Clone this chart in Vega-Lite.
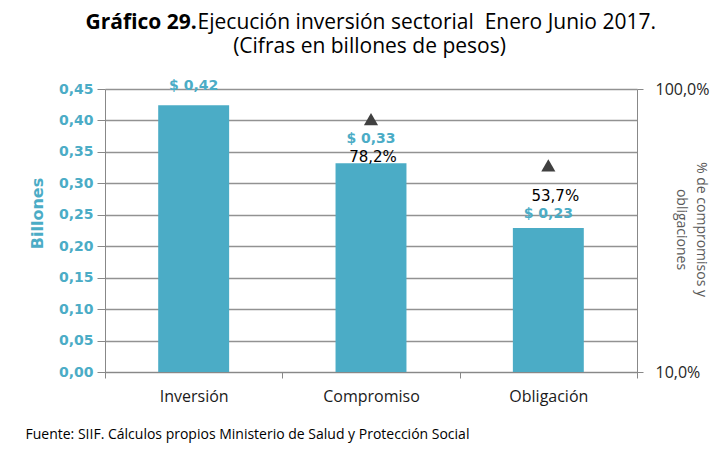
{
  "$schema": "https://vega.github.io/schema/vega-lite/v6.json",
  "width": 532,
  "height": 283,
  "autosize": "none",
  "padding": {"left": 105, "top": 89, "right": 79, "bottom": 84},
  "background": "white",
  "data": {
    "values": [
      {"cat": "Inversión", "val": 0.424, "label": "$ 0,42"},
      {"cat": "Compromiso", "val": 0.332, "label": "$ 0,33", "pct": 78.2, "pctLabel": "78,2%"},
      {"cat": "Obligación", "val": 0.229, "label": "$ 0,23", "pct": 53.7, "pctLabel": "53,7%"}
    ]
  },
  "encoding": {
    "x": {
      "field": "cat",
      "type": "nominal",
      "sort": null,
      "scale": {"domain": ["Inversión", "Compromiso", "Obligación"], "paddingInner": 0, "paddingOuter": 0},
      "axis": {
        "title": "Fuente: SIIF. Cálculos propios Ministerio de Salud y Protección Social",
        "titleFont": "Open Sans",
        "titleFontSize": 14,
        "titleFontWeight": "normal",
        "titleColor": "#000000",
        "titleAlign": "left",
        "titleAnchor": "start",
        "titleX": -80,
        "titleY": 62,
        "titleBaseline": "middle",
        "labelAngle": 0,
        "labelFont": "Open Sans",
        "labelFontSize": 16,
        "labelColor": "#1a1a1a",
        "labelPadding": 10,
        "tickBand": "extent",
        "tickSize": 6,
        "tickColor": "#888888",
        "domainColor": "#888888",
        "grid": false
      }
    }
  },
  "layer": [
    {
      "layer": [
        {
          "mark": {"type": "bar", "color": "#4BACC6", "width": {"band": 0.4}},
          "encoding": {
            "y": {
              "field": "val",
              "type": "quantitative",
              "scale": {"domain": [0, 0.45], "nice": false},
              "axis": {
                "orient": "left",
                "values": [0, 0.05, 0.1, 0.15, 0.2, 0.25, 0.3, 0.35, 0.4, 0.45],
                "labelExpr": "replace(format(datum.value, '.2f'), '.', ',')",
                "labelFont": "DejaVu Sans",
                "labelFontWeight": "bold",
                "labelFontSize": 14,
                "labelColor": "#4BACC6",
                "labelPadding": 4,
                "tickSize": 8,
                "tickColor": "#888888",
                "domainColor": "#888888",
                "grid": true,
                "gridColor": "#929292",
                "gridWidth": 1.3,
                "title": "Billones",
                "titleFont": "DejaVu Sans",
                "titleFontSize": 16,
                "titleFontWeight": "bold",
                "titleColor": "#4BACC6",
                "titleAngle": -90,
                "titleBaseline": "middle",
                "titleAlign": "center",
                "titleX": -68,
                "titleY": 124
              }
            }
          }
        },
        {
          "transform": [{"filter": "isValid(datum.pct)"}],
          "encoding": {
            "y": {
              "field": "pct",
              "type": "quantitative",
              "scale": {"type": "log", "domain": [10, 100], "nice": false},
              "axis": {
                "orient": "right",
                "values": [10, 100],
                "labelExpr": "replace(format(datum.value, '.1f'), '.', ',') + '%'",
                "labelFont": "Open Sans",
                "labelFontSize": 16,
                "labelColor": "#262626",
                "labelPadding": 12,
                "tickSize": 6,
                "tickColor": "#888888",
                "domainColor": "#888888",
                "grid": false,
                "title": ["% de compromisos y", "obligaciones"],
                "titleFont": "Open Sans",
                "titleFontSize": 14,
                "titleFontWeight": "normal",
                "titleColor": "#595959",
                "titleAngle": 90,
                "titleLineHeight": 20,
                "titleAlign": "center",
                "titleBaseline": "middle",
                "titleX": 63,
                "titleY": 140
              }
            }
          },
          "layer": [
            {
              "mark": {"type": "point", "shape": "triangle-up", "filled": true, "size": 200, "color": "#404040", "opacity": 1}
            },
            {
              "transform": [{"filter": "datum.cat === 'Compromiso'"}],
              "mark": {"type": "text", "font": "DejaVu Sans", "fontSize": 15, "color": "#000000", "baseline": "middle", "dy": 38, "dx": 2},
              "encoding": {"text": {"field": "pctLabel"}}
            },
            {
              "transform": [{"filter": "datum.cat === 'Obligación'"}],
              "mark": {"type": "text", "font": "DejaVu Sans", "fontSize": 15, "color": "#000000", "baseline": "middle", "dy": 31, "dx": 7},
              "encoding": {"text": {"field": "pctLabel"}}
            }
          ]
        }
      ],
      "resolve": {"scale": {"y": "independent"}}
    },
    {
      "encoding": {
        "x": {
          "field": "cat",
          "type": "nominal",
          "sort": null,
          "scale": {"domain": ["Inversión", "Compromiso", "Obligación"], "paddingInner": 0, "paddingOuter": 0},
          "axis": {
            "orient": "top",
            "labels": false,
            "ticks": false,
            "domain": false,
            "grid": false,
            "title": ["\u200b\u00a0\u00a0\u00a0\u00a0\u00a0\u00a0\u00a0\u00a0\u00a0\u00a0\u00a0\u00a0\u00a0\u00a0\u00a0\u00a0\u00a0\u00a0\u00a0\u00a0\u00a0Ejecución inversión sectorial\u00a0\u00a0Enero Junio 2017.", "(Cifras en billones de pesos)"],
            "titleFont": "Open Sans",
            "titleFontSize": 21,
            "titleFontWeight": "normal",
            "titleColor": "#000000",
            "titleLineHeight": 24,
            "titleAlign": "center",
            "titleAnchor": "middle",
            "titleBaseline": "alphabetic",
            "titleX": 264,
            "titleY": -61
          }
        },
        "y": {
          "field": "val",
          "type": "quantitative",
          "scale": {"domain": [0, 0.45], "nice": false},
          "axis": {
            "orient": "left",
            "labels": false,
            "ticks": false,
            "domain": false,
            "grid": false,
            "title": "Gráfico 29.",
            "titleFont": "Open Sans",
            "titleFontSize": 21,
            "titleFontWeight": "bold",
            "titleColor": "#000000",
            "titleAngle": 0,
            "titleAlign": "left",
            "titleBaseline": "alphabetic",
            "titleX": -20,
            "titleY": -61
          }
        },
        "text": {"field": "label"}
      },
      "layer": [
        {
          "transform": [{"filter": "datum.cat === 'Inversión'"}],
          "mark": {"type": "text", "font": "DejaVu Sans", "fontWeight": "bold", "fontSize": 14, "color": "#4BACC6", "baseline": "middle", "dy": -19}
        },
        {
          "transform": [{"filter": "datum.cat === 'Compromiso'"}],
          "mark": {"type": "text", "font": "DejaVu Sans", "fontWeight": "bold", "fontSize": 14, "color": "#4BACC6", "baseline": "middle", "dy": -24}
        },
        {
          "transform": [{"filter": "datum.cat === 'Obligación'"}],
          "mark": {"type": "text", "font": "DejaVu Sans", "fontWeight": "bold", "fontSize": 14, "color": "#4BACC6", "baseline": "middle", "dy": -14}
        }
      ]
    }
  ],
  "resolve": {"scale": {"x": "independent", "y": "independent"}},
  "config": {"view": {"stroke": null}}
}
